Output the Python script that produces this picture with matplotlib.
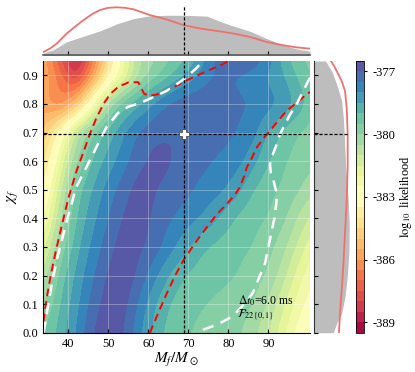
import matplotlib
matplotlib.use('Agg')
import matplotlib.pyplot as plt
import numpy as np

plt.rcParams['font.family'] = ['Liberation Serif', 'DejaVu Serif']
plt.rcParams['mathtext.fontset'] = 'stix'
plt.rcParams['axes.unicode_minus'] = False

# likelihood grid (log10 likelihood)
mass_grid = [33.5, 38, 42, 46, 50, 54, 58, 62, 66, 70, 74, 78, 82, 86, 90, 94, 98, 102]
spin_grid = [0.0, 0.1, 0.2, 0.3, 0.4, 0.5, 0.6, 0.7, 0.8, 0.9, 0.95]
loglike = [
    [-379.6, -378.8, -378.0, -377.0, -376.6, -377.0, -378.0, -378.8, -379.3, -379.5, -379.6, -379.7, -379.9, -380.3, -381.0, -382.0, -382.9, -383.4],
    [-380.2, -379.0, -378.2, -377.3, -376.7, -376.8, -377.7, -378.6, -379.1, -379.4, -379.5, -379.6, -379.7, -380.0, -380.6, -381.5, -382.4, -383.0],
    [-381.0, -379.3, -378.4, -377.6, -376.9, -376.6, -377.2, -378.0, -378.7, -379.1, -379.3, -379.4, -379.5, -379.7, -380.1, -380.9, -381.9, -382.6],
    [-382.0, -379.9, -378.7, -377.9, -377.2, -376.7, -376.9, -377.3, -377.9, -378.5, -379.0, -379.2, -379.4, -379.5, -379.8, -380.4, -381.3, -382.1],
    [-382.9, -380.6, -379.0, -378.2, -377.5, -376.9, -376.7, -377.2, -377.5, -377.8, -378.1, -378.6, -379.1, -379.4, -379.5, -379.9, -380.7, -381.4],
    [-383.6, -381.2, -379.3, -378.5, -377.8, -377.2, -376.7, -377.0, -377.2, -377.4, -377.7, -377.9, -378.3, -379.0, -379.4, -379.6, -380.0, -380.5],
    [-384.5, -382.0, -380.0, -379.0, -378.3, -377.7, -377.1, -376.8, -377.0, -377.2, -377.4, -377.6, -377.8, -378.3, -379.0, -379.5, -379.7, -379.9],
    [-385.1, -383.2, -380.8, -379.5, -378.8, -378.0, -377.4, -377.1, -377.0, -377.1, -377.2, -377.3, -377.5, -377.8, -378.6, -379.2, -379.6, -379.8],
    [-385.8, -386.5, -385.3, -382.8, -380.3, -379.2, -378.5, -377.8, -377.3, -377.1, -377.1, -377.2, -377.4, -377.5, -377.8, -378.1, -378.8, -379.4],
    [-385.5, -386.8, -388.3, -386.2, -383.8, -382.0, -380.5, -379.7, -379.0, -378.4, -377.7, -377.4, -377.6, -377.8, -378.1, -378.5, -379.2, -379.6],
    [-385.5, -387.5, -389.2, -386.8, -384.3, -382.0, -380.4, -380.0, -379.5, -378.9, -378.1, -377.2, -376.9, -377.1, -377.8, -378.8, -379.5, -379.8],
]

# credible region contours (red) and second contour (white)
red1_x = [33.8, 34.6, 35.6, 36.8, 38.3, 40.0, 42.1, 44.0, 45.4, 47.0, 48.8, 50.5, 52.5, 55.0, 57.5, 58.2, 59.0, 60.2, 62.5, 65.5, 68.8, 72.0, 75.0, 78.0, 80.5]
red1_y = [0.04, 0.12, 0.2, 0.28, 0.37, 0.47, 0.567, 0.64, 0.695, 0.75, 0.80, 0.835, 0.86, 0.875, 0.876, 0.855, 0.835, 0.828, 0.834, 0.852, 0.877, 0.898, 0.917, 0.935, 0.953]
red2_x = [60.4, 62.5, 64.6, 66.7, 68.75, 71.5, 74.6, 77.2, 79.6, 81.5, 82.9, 84.0, 84.6, 86.0, 87.1, 88.8, 90.4, 92.5, 94.6, 97.2, 99.6, 100.5]
red2_y = [0.0, 0.07, 0.137, 0.2, 0.253, 0.31, 0.369, 0.415, 0.45, 0.48, 0.509, 0.55, 0.578, 0.615, 0.648, 0.68, 0.706, 0.742, 0.776, 0.806, 0.834, 0.842]
white1_x = [33.8, 34.2, 35.0, 36.0, 37.1, 38.5, 40.0, 42.0, 44.5, 47.0, 49.5, 52.4, 55.0, 58.3, 61.5, 64.6, 67.4, 69.5, 72.0, 73.8]
white1_y = [0.0, 0.03, 0.1, 0.18, 0.253, 0.33, 0.41, 0.509, 0.578, 0.648, 0.718, 0.768, 0.79, 0.805, 0.825, 0.846, 0.872, 0.893, 0.925, 0.952]
white2_x = [100.4, 98.5, 97.1, 95.3, 93.75, 92.8, 92.1, 91.0, 90.4, 90.6, 91.4, 92.1, 92.0, 91.5, 90.9, 90.0, 89.2, 87.9, 86.1, 84.0, 81.1, 77.5, 73.6, 72.0]
white2_y = [0.892, 0.84, 0.80, 0.76, 0.718, 0.69, 0.66, 0.62, 0.59, 0.56, 0.525, 0.486, 0.455, 0.40, 0.36, 0.30, 0.244, 0.20, 0.139, 0.10, 0.058, 0.03, 0.01, 0.0]

# marginals (relative heights)
top_x = [33.75, 36.3, 39.6, 43.8, 47.9, 52.1, 56.3, 60.4, 64.6, 68.8, 74.6, 77.9, 81.3, 85.4, 89.6, 93.8, 97.9, 100.4]
top_prior = [2.3, 5.7, 13.5, 19, 24.3, 31.2, 36.5, 39.3, 39.8, 39.8, 39.0, 33.8, 29, 24.0, 16.7, 10, 5.7, 4.3]
top_post_x = [33.75, 35.5, 37.1, 39.6, 41.7, 43.8, 45.9, 47.9, 50.0, 52.1, 54.2, 56.3, 60.4, 64.6, 68.8, 72.9, 77.1, 81.3, 85.4, 89.6, 93.8, 97.0, 100.4]
top_post = [3.3, 7.0, 11.7, 21.7, 28.5, 35, 40.8, 45, 47.2, 47.7, 47.2, 45.7, 40, 35.7, 30, 26.7, 24.3, 21.7, 18.3, 13.3, 10, 8.0, 6.7]
side_y = [0.0, 0.033, 0.068, 0.125, 0.195, 0.288, 0.381, 0.462, 0.578, 0.695, 0.753, 0.811, 0.869, 0.915, 0.95]
side_prior = [19.3, 22.7, 27.7, 31, 33.3, 35, 35.3, 34.3, 31.7, 30.3, 29.3, 27.7, 22.7, 17.7, 11.5]
side_post_y = [0.0, 0.068, 0.149, 0.23, 0.346, 0.462, 0.578, 0.695, 0.787, 0.846, 0.88, 0.904, 0.93, 0.95]
side_post = [25, 26, 27.7, 29.3, 31, 32.7, 33.7, 33.7, 32.7, 31, 27.7, 24.3, 20.5, 17.0]

m_true = 68.8
chi_true = 0.695
levels = np.arange(-389.5, -376.4, 0.5)


def smooth(a, sigma, axis):
    half = int(3 * sigma)
    k = np.exp(-0.5 * (np.arange(-half, half + 1) / sigma) ** 2)
    k /= k.sum()
    pad = [(0, 0), (0, 0)]
    pad[axis] = (half, half)
    ap = np.pad(a, pad, mode='edge')
    return np.apply_along_axis(lambda v: np.convolve(v, k, mode='valid'), axis, ap)


# resample the read grid onto a fine mesh for smooth filled contours
xf = np.linspace(mass_grid[0], mass_grid[-1], 400)
yf = np.linspace(0, 0.95, 250)
Z = np.array(loglike)
Zx = np.array([np.interp(xf, mass_grid, row) for row in Z])
Zf = np.array([np.interp(yf, spin_grid, Zx[:, j]) for j in range(len(xf))]).T
Zf = smooth(smooth(Zf, 8, 1), 7, 0)
Zf = np.clip(Zf, -389.49, -376.51)

fig = plt.figure(figsize=(4.15, 3.72), dpi=100)
ax = fig.add_axes([0.1043, 0.1056, 0.6427, 0.7304])
ax_top = fig.add_axes([0.1043, 0.851, 0.6427, 0.141])
ax_side = fig.add_axes([0.7566, 0.1056, 0.0867, 0.7304])
cax = fig.add_axes([0.8578, 0.1056, 0.0193, 0.7304])

cs = ax.contourf(xf, yf, Zf, levels=levels, cmap='Spectral')

ax.plot(red1_x, red1_y, color='red', lw=1.4, dashes=(4, 2.5))
ax.plot(red2_x, red2_y, color='red', lw=1.4, dashes=(4, 2.5))
ax.plot(white1_x, white1_y, color='white', lw=1.8, dashes=(4.5, 3))
ax.plot(white2_x, white2_y, color='white', lw=1.8, dashes=(4.5, 3))

ax.axvline(m_true, color='black', lw=0.9, dashes=(2.5, 1.5))
ax.axhline(chi_true, color='black', lw=0.9, dashes=(2.5, 1.5))
ax.plot(m_true, chi_true, marker='P', ms=7, mfc='white', mec='0.3', mew=0.6)

ax.text(82.3, 0.113, r'$\Delta t_0$=6.0 ms', fontsize=8.5, va='center')
ax.text(82.2, 0.060, r'$\mathcal{F}_{22\{0,1\}}$', fontsize=8.5, va='center')

ax.set_xlim(33.75, 100.4)
ax.set_ylim(0, 0.95)
ax.set_xticks([40, 50, 60, 70, 80, 90])
ax.set_yticks(np.arange(0, 0.95, 0.1))
ax.set_yticklabels(['%.1f' % v for v in np.arange(0, 0.95, 0.1)])
ax.grid(True, color='white', alpha=0.35, lw=0.6)
ax.tick_params(direction='in', labelsize=9, length=3, top=False, right=False)
ax.spines['top'].set_visible(False)
ax.spines['right'].set_visible(False)
ax.set_xlabel(r'$M_f/M_\odot$', fontsize=11, labelpad=1)
ax.set_ylabel(r'$\chi_f$', fontsize=11, labelpad=2)

# top marginal
ax_top.fill_between(top_x, 0, top_prior, color='#bdbdbd', lw=0)
ax_top.plot(top_post_x, top_post, color='#f07070', lw=1.3)
ax_top.axvline(m_true, color='black', lw=0.9, dashes=(2.5, 1.5), ymax=0.95)
ax_top.set_xlim(33.75, 100.4)
ax_top.set_ylim(0, 52)
ax_top.set_xticks([40, 50, 60, 70, 80, 90])
ax_top.set_yticks([])
ax_top.tick_params(direction='in', labelbottom=False, length=3)
for s in ['top', 'left', 'right']:
    ax_top.spines[s].set_visible(False)
ax_top.spines['bottom'].set_color('0.35')
ax_top.spines['bottom'].set_linewidth(1.2)
ax_top.patch.set_alpha(0)

# side marginal
ax_side.fill_betweenx(side_y, 0, side_prior, color='#bdbdbd', lw=0)
ax_side.plot(side_post, side_post_y, color='#f07070', lw=1.3)
ax_side.axhline(chi_true, color='black', lw=0.9, dashes=(2.5, 1.5), xmax=0.97)
ax_side.set_ylim(0, 0.95)
ax_side.set_xlim(0, 36)
ax_side.set_yticks(np.arange(0, 0.95, 0.1))
ax_side.set_xticks([])
ax_side.tick_params(direction='in', labelleft=False, length=3)
for s in ['top', 'bottom', 'right']:
    ax_side.spines[s].set_visible(False)
ax_side.spines['left'].set_color('0.2')
ax_side.patch.set_alpha(0)

cb = fig.colorbar(cs, cax=cax, ticks=[-377, -380, -383, -386, -389])
cb.ax.tick_params(labelsize=9, length=2.5)
cb.set_label(r'$\log_{10}$ likelihood', fontsize=9, labelpad=2)
cb.outline.set_linewidth(0.6)

plt.savefig('out.png', dpi=100)
